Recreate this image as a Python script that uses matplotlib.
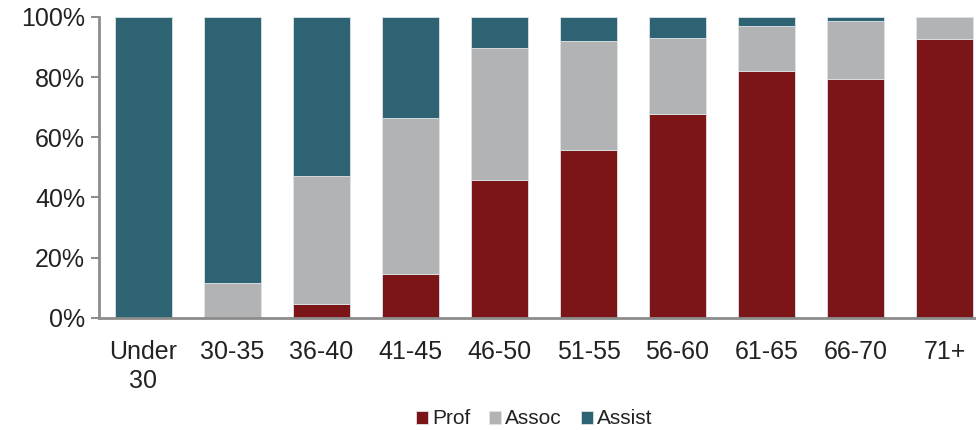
import matplotlib
matplotlib.use("Agg")
import matplotlib.pyplot as plt
from matplotlib.ticker import PercentFormatter

categories = ["Under\n30", "30-35", "36-40", "41-45", "46-50", "51-55", "56-60", "61-65", "66-70", "71+"]
prof = [0, 0, 4.7, 14.5, 45.8, 55.7, 67.8, 82.1, 79.5, 92.7]
assoc = [0, 11.6, 42.4, 52.0, 43.8, 36.3, 25.2, 14.9, 19.1, 7.3]
assist = [100, 88.4, 52.9, 33.5, 10.4, 8.0, 7.0, 3.0, 1.4, 0]

c_prof = "#7B1518"
c_assoc = "#B2B3B5"
c_assist = "#2E6374"

plt.rcParams['font.family'] = ['Liberation Sans', 'DejaVu Sans']

fig = plt.figure(figsize=(9.76, 4.30), dpi=100)
ax = fig.add_axes([99/976, 1-317.7/430, (989-99)/976, (317.7-17)/430])

x = list(range(len(categories)))
w = 0.65
ec = "#DDE3E6"
ax.bar(x, prof, w, color=c_prof, edgecolor=ec, linewidth=0.6, label="Prof")
ax.bar(x, assoc, w, bottom=prof, color=c_assoc, edgecolor=ec, linewidth=0.6, label="Assoc")
bottom2 = [p + a for p, a in zip(prof, assoc)]
ax.bar(x, assist, w, bottom=bottom2, color=c_assist, edgecolor=ec, linewidth=0.6, label="Assist")

ax.set_xlim(-0.5, 9.5)
ax.set_ylim(0, 100)
ax.set_yticks([0, 20, 40, 60, 80, 100])
ax.yaxis.set_major_formatter(PercentFormatter(decimals=0))
ax.set_xticks(x)
ax.set_xticklabels(categories, fontsize=18, color="#222222", linespacing=1.25)
ax.tick_params(axis='x', length=0, pad=16)
ax.tick_params(axis='y', length=6, width=1.5, color="#8C8C8C", labelsize=18, labelcolor="#222222", pad=4)

for s in ['top', 'right']:
    ax.spines[s].set_visible(False)
for s in ['left', 'bottom']:
    ax.spines[s].set_color("#8C8C8C")
    ax.spines[s].set_linewidth(2)

fig.legend(loc='center', bbox_to_anchor=(534/976, 1-419/430), ncol=3, frameon=False,
           fontsize=15, handlelength=0.58, handleheight=0.58, handletextpad=0.2,
           columnspacing=0.9, labelcolor="#222222")

fig.savefig("out.png", dpi=100)
